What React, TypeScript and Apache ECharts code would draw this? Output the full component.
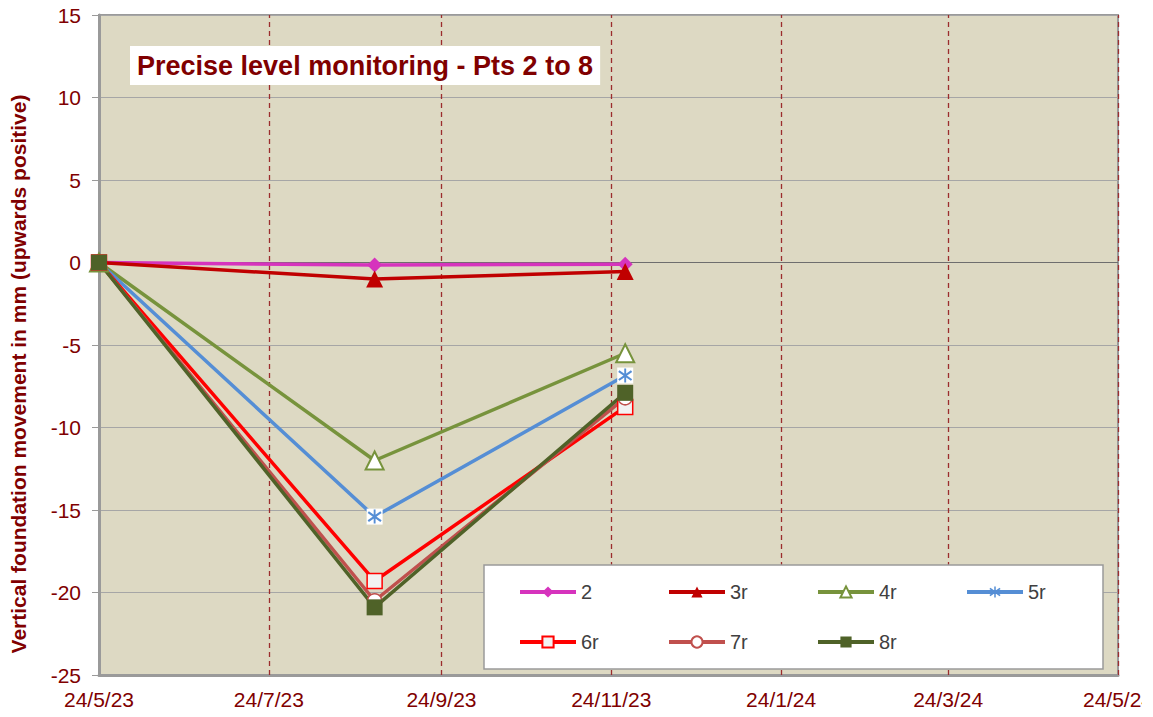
import React, { useEffect, useRef } from "react";
import * as echarts from "echarts";

// Survey dates and values (mm)
const surveyDates = ["2023-05-24", "2023-08-31", "2023-11-29"];
const pt2 = [0, -0.15, -0.1];
const pt3r = [0, -1.0, -0.55];
const pt4r = [0, -12.0, -5.5];
const pt5r = [0, -15.4, -6.85];
const pt6r = [0, -19.3, -8.75];
const pt7r = [0, -20.5, -8.2];
const pt8r = [0, -20.9, -7.9];

// Axis ticks
const tickDates = ["2023-05-24", "2023-07-24", "2023-09-24", "2023-11-24", "2024-01-24", "2024-03-24", "2024-05-24"];
const tickLabels = ["24/5/23", "24/7/23", "24/9/23", "24/11/23", "24/1/24", "24/3/24", "24/5/24"];
const yTicks = { min: -25, max: 15, interval: 5 };

const titleText = "Precise level monitoring - Pts 2 to 8";
const yName = "Vertical foundation movement in mm (upwards positive)";

const FONT = "'Liberation Sans', Arial, sans-serif";
const DARK_RED = "#800000";

const ts = (d: string) => new Date(d + "T00:00:00Z").getTime();

const asterisk =
  "path://M8.8 0H11.2V20H8.8Z M1.1 4.8 L2.7 2.4 L18.9 15.2 L17.3 17.6Z M17.3 2.4 L18.9 4.8 L2.7 17.6 L1.1 15.2Z";

export default function App() {
  const ref = useRef<HTMLDivElement>(null);
  useEffect(() => {
    if (!ref.current) return;
    const chart = echarts.init(ref.current, undefined, { renderer: "svg" });
    const tickTs = tickDates.map(ts);
    const mk = (vals: number[]) => surveyDates.map((d, i) => [ts(d), vals[i]]);

    const lineSeries = (name: string, vals: number[], color: string, symbol: string, size: number, itemStyle: any, z = 3) => ({
      name,
      type: "line",
      data: mk(vals),
      symbol,
      symbolSize: size,
      showAllSymbol: true,
      clip: false,
      z,
      lineStyle: { color, width: 3.5 },
      itemStyle: { color, ...itemStyle },
      emphasis: { disabled: true },
    });

    const option: any = {
      animation: false,
      useUTC: true,
      backgroundColor: "#ffffff",
      title: {
        text: titleText,
        left: 130,
        top: 46,
        padding: [5, 7, 4, 7],
        backgroundColor: "#ffffff",
        textStyle: { fontFamily: FONT, fontSize: 27, fontWeight: "bold", color: DARK_RED, lineHeight: 30 },
      },
      grid: {
        left: 92,
        right: 24,
        top: 15,
        bottom: 42,
        show: true,
        backgroundColor: "#DDD9C3",
        borderColor: "#9A9A9A",
        borderWidth: 2,
        containLabel: false,
      },
      legend: {
        data: ["2", "3r", "4r", "5r", "6r", "7r", "8r"],
        left: 484,
        top: 565,
        width: 575,
        padding: [15, 15, 15, 34],
        itemGap: 26,
        itemWidth: 56,
        itemHeight: 14,
        z: 10,
        backgroundColor: "#ffffff",
        borderColor: "#9A9A9A",
        borderWidth: 1.5,
        lineStyle: { width: 4 },
        textStyle: { fontFamily: FONT, fontSize: 20, color: "#404040", width: 60, lineHeight: 24 },
      },
      xAxis: {
        type: "time",
        min: tickTs[0],
        max: tickTs[tickTs.length - 1],
        axisLine: { show: true, onZero: false, lineStyle: { color: "#9A9A9A", width: 3 } },
        axisTick: { show: false },
        splitLine: { show: false },
        axisLabel: { show: false },
      },
      yAxis: {
        type: "value",
        min: yTicks.min,
        max: yTicks.max,
        interval: yTicks.interval,
        name: yName,
        nameLocation: "middle",
        nameGap: 70,
        nameRotate: 90,
        nameTextStyle: {
          fontFamily: FONT,
          fontSize: 21,
          fontWeight: "bold",
          color: DARK_RED,
          padding: [0, 58, 0, 0],
        },
        axisLine: { show: true, lineStyle: { color: "#9A9A9A", width: 3 } },
        axisTick: { show: true, length: 7, lineStyle: { color: "#9A9A9A", width: 1 } },
        splitLine: { show: true, lineStyle: { color: "#A6A6A6", width: 1 } },
        axisLabel: { fontFamily: FONT, fontSize: 21, color: DARK_RED, margin: 18 },
      },
      series: [
        {
          name: "grid-lines",
          type: "line",
          data: [],
          silent: true,
          z: 1,
          markLine: {
            silent: true,
            z: 1,
            symbol: "none",
            animation: false,
            label: {
              show: true,
              position: "start",
              distance: 14,
              fontFamily: FONT,
              fontSize: 21,
              color: DARK_RED,
            },
            data: [
              ...tickTs.map((t, i) => ({
                xAxis: t,
                label: { formatter: tickLabels[i] },
                lineStyle:
                  i === 0
                    ? { color: "rgba(0,0,0,0)", width: 1, type: "solid" }
                    : { color: "#9B2D2D", type: [5, 4], width: 1.3 },
              })),
              { yAxis: 0, label: { show: false }, lineStyle: { color: "#6E6E6E", type: "solid", width: 1 } },
            ],
          },
        },
        lineSeries("2", pt2, "#D633BD", "diamond", 15, {}),
        lineSeries("3r", pt3r, "#C00000", "triangle", 17, {}),
        lineSeries("4r", pt4r, "#77933C", "triangle", 18, { color: "#ffffff", borderColor: "#77933C", borderWidth: 2 }),
        {
          name: "5r-bg",
          type: "line",
          data: mk(pt5r),
          symbol: "rect",
          symbolSize: 16,
          clip: false,
          z: 3,
          lineStyle: { opacity: 0, width: 0 },
          itemStyle: { color: "#ffffff" },
          emphasis: { disabled: true },
          silent: true,
        },
        lineSeries("5r", pt5r, "#558ED5", asterisk, 14, {}),
        lineSeries("6r", pt6r, "#FF0000", "rect", 15, { color: "#F2F2F2", borderColor: "#FF0000", borderWidth: 1.5 }),
        lineSeries("7r", pt7r, "#C0504D", "circle", 14, { color: "#ffffff", borderColor: "#C0504D", borderWidth: 1.5 }),
        lineSeries("8r", pt8r, "#4F6228", "rect", 16, {}),
      ],
    };
    chart.setOption(option);
    return () => chart.dispose();
  }, []);
  return (
    <div
      ref={ref}
      style={{ position: "absolute", left: 0, top: 0, width: 1142, height: 717, overflow: "hidden" }}
    />
  );
}
